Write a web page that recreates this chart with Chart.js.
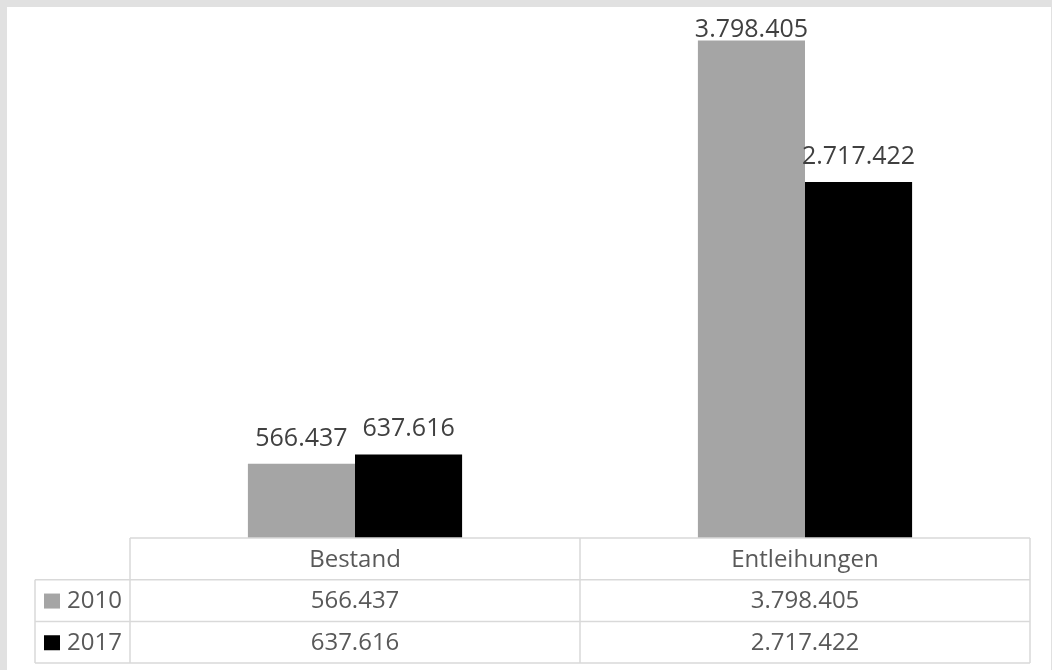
<!DOCTYPE html>
<html>
<head>
<meta charset="utf-8">
<script src="https://cdn.jsdelivr.net/npm/chart.js@4/dist/chart.umd.min.js"></script>
<style>
html,body{margin:0;padding:0;background:#fff;}
#wrap{width:1052px;height:670px;position:relative;}
canvas{display:block;}
</style>
</head>
<body>
<div id="wrap"><canvas id="c" width="1052" height="670"></canvas></div>
<script>
const categories = ['Bestand', 'Entleihungen'];
const seriesNames = ['2010', '2017'];
const values2010 = [566437, 3798405];
const values2017 = [637616, 2717422];
const seriesColors = ['#a5a5a5', '#000000'];

function fmt(n) {
  return String(n).replace(/\B(?=(\d{3})+(?!\d))/g, '.');
}

const FONT = '"Open Sans", "Noto Sans", sans-serif';

const framePlugin = {
  id: 'frame',
  beforeDraw(chart) {
    const ctx = chart.ctx;
    ctx.save();
    ctx.fillStyle = '#e1e1e1';
    ctx.fillRect(0, 0, chart.width, chart.height);
    ctx.fillStyle = '#ffffff';
    ctx.fillRect(7, 7, chart.width - 8, chart.height - 7);
    ctx.restore();
  }
};

const labelPlugin = {
  id: 'barLabels',
  afterDatasetsDraw(chart) {
    const ctx = chart.ctx;
    ctx.save();
    ctx.font = '25px ' + FONT;
    ctx.fillStyle = '#404040';
    ctx.textAlign = 'center';
    ctx.textBaseline = 'alphabetic';
    chart.data.datasets.forEach((ds, di) => {
      const meta = chart.getDatasetMeta(di);
      meta.data.forEach((bar, i) => {
        let y = bar.y - 18;
        if (y < 37) y = 37;
        ctx.fillText(fmt(ds.data[i]), bar.x, y);
      });
    });
    ctx.restore();
  }
};

const tablePlugin = {
  id: 'dataTable',
  afterDraw(chart) {
    const ctx = chart.ctx;
    const xs = chart.scales.x;
    const area = chart.chartArea;
    const top = area.bottom;
    const rowH = 41.7;
    const left = area.left;
    const right = area.right;
    const legLeft = 35;
    const n = categories.length;
    const colW = (right - left) / n;
    ctx.save();
    ctx.strokeStyle = '#d9d9d9';
    ctx.lineWidth = 1.5;
    ctx.beginPath();
    ctx.moveTo(left, top); ctx.lineTo(right, top);
    for (let r = 1; r <= seriesNames.length + 1; r++) {
      const y = top + r * rowH;
      ctx.moveTo(legLeft, y); ctx.lineTo(right, y);
    }
    ctx.moveTo(left, top); ctx.lineTo(left, top + (seriesNames.length + 1) * rowH);
    for (let c = 1; c <= n; c++) {
      const x = left + c * colW;
      ctx.moveTo(x, top); ctx.lineTo(x, top + (seriesNames.length + 1) * rowH);
    }
    ctx.moveTo(legLeft, top + rowH); ctx.lineTo(legLeft, top + (seriesNames.length + 1) * rowH);
    ctx.stroke();

    ctx.font = '24px ' + FONT;
    ctx.fillStyle = '#595959';
    ctx.textAlign = 'center';
    ctx.textBaseline = 'middle';
    categories.forEach((cat, i) => {
      const cx = xs.getPixelForValue(i);
      ctx.fillText(cat, cx, top + rowH / 2 + 1);
    });
    const allSeries = [values2010, values2017];
    allSeries.forEach((vals, s) => {
      const cy = top + (s + 1) * rowH + rowH / 2 + 1;
      vals.forEach((v, i) => {
        ctx.fillText(fmt(v), xs.getPixelForValue(i), cy);
      });
      ctx.fillStyle = seriesColors[s];
      ctx.fillRect(44, cy - 8, 16, 15);
      ctx.fillStyle = '#595959';
      ctx.textAlign = 'left';
      ctx.fillText(seriesNames[s], 67, cy);
      ctx.textAlign = 'center';
    });
    ctx.restore();
  }
};

new Chart(document.getElementById('c'), {
  type: 'bar',
  data: {
    labels: categories,
    datasets: [
      { label: seriesNames[0], data: values2010, backgroundColor: seriesColors[0], borderWidth: 0 },
      { label: seriesNames[1], data: values2017, backgroundColor: seriesColors[1], borderWidth: 0 }
    ]
  },
  options: {
    responsive: false,
    animation: false,
    devicePixelRatio: 1,
    layout: { padding: { left: 130, right: 22, top: 14, bottom: 132 } },
    datasets: { bar: { categoryPercentage: 0.476, barPercentage: 1 } },
    scales: {
      x: { display: false },
      y: { display: false, min: 0, max: 4000000 }
    },
    plugins: { legend: { display: false }, tooltip: { enabled: false }, title: { display: false } }
  },
  plugins: [framePlugin, labelPlugin, tablePlugin]
});
</script>
</body>
</html>
